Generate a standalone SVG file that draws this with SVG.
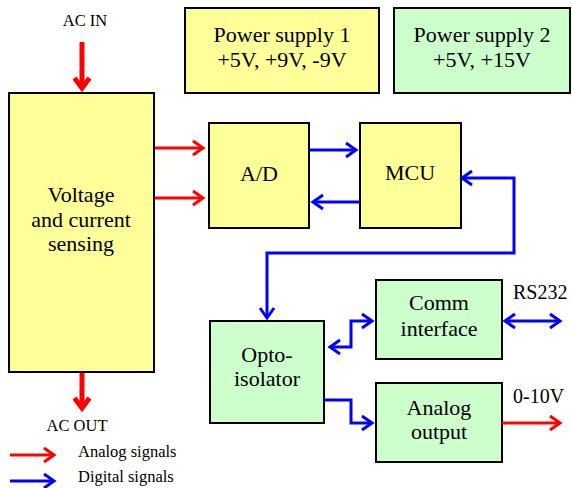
<svg xmlns="http://www.w3.org/2000/svg" width="572" height="488" viewBox="0 0 572 488">
<style>
.box{stroke:#000;stroke-width:2}
.y{fill:#FFFF99}
.g{fill:#CCFFCC}
text{font-family:'Liberation Serif',serif;fill:#000}
.t{font-size:22px;text-anchor:middle}
.s{font-size:16.5px}
.l{font-size:20px}
.r{stroke:#FF0000;stroke-width:3;fill:none}
.b{stroke:#0000FF;stroke-width:3;fill:none}
.R{stroke:#FF0000;stroke-width:5;fill:none}
</style>
<defs>
<marker id="ar" markerUnits="userSpaceOnUse" orient="auto" refX="0" refY="0" markerWidth="20" markerHeight="20" overflow="visible">
<path d="M-10,-7 L0,0 L-10,7" fill="none" stroke="#FF0000" stroke-width="3"/>
</marker>
<marker id="ab" markerUnits="userSpaceOnUse" orient="auto-start-reverse" refX="0" refY="0" markerWidth="20" markerHeight="20" overflow="visible">
<path d="M-10,-7 L0,0 L-10,7" fill="none" stroke="#0000FF" stroke-width="3"/>
</marker>
<marker id="aR" markerUnits="userSpaceOnUse" orient="auto" refX="0" refY="0" markerWidth="30" markerHeight="30" overflow="visible">
<path d="M-10,-7.5 L0,0 L-10,7.5" fill="none" stroke="#FF0000" stroke-width="5"/>
</marker>
</defs>

<g id="ps1">
<rect class="box y" x="185" y="8" width="194" height="85"/>
<text class="t" x="282" y="42" font-family="Liberation Serif, serif">Power supply 1</text>
<text class="t" x="282" y="67" font-family="Liberation Serif, serif">+5V, +9V, -9V</text>
</g>
<g id="ps2">
<rect class="box g" x="394" y="8" width="176" height="85"/>
<text class="t" x="482" y="42" font-family="Liberation Serif, serif">Power supply 2</text>
<text class="t" x="482" y="67" font-family="Liberation Serif, serif">+5V, +15V</text>
</g>
<g id="sensing">
<rect class="box y" x="9" y="93" width="145" height="279"/>
<text class="t" x="81" y="202" font-family="Liberation Serif, serif">Voltage</text>
<text class="t" x="81" y="227" font-family="Liberation Serif, serif">and current</text>
<text class="t" x="81" y="251" font-family="Liberation Serif, serif">sensing</text>
</g>
<g id="ad">
<rect class="box y" x="209" y="123" width="100" height="105"/>
<text class="t" x="259" y="181" font-family="Liberation Serif, serif">A/D</text>
</g>
<g id="mcu">
<rect class="box y" x="360" y="123" width="101" height="105"/>
<text class="t" x="410" y="180" font-family="Liberation Serif, serif">MCU</text>
</g>
<g id="opto">
<rect class="box g" x="210" y="321" width="114" height="102"/>
<text class="t" x="267" y="362" font-family="Liberation Serif, serif">Opto-</text>
<text class="t" x="267" y="386" font-family="Liberation Serif, serif">isolator</text>
</g>
<g id="comm">
<rect class="box g" x="376" y="280" width="126" height="79"/>
<text class="t" x="439" y="310" font-family="Liberation Serif, serif">Comm</text>
<text class="t" x="439" y="336" font-family="Liberation Serif, serif">interface</text>
</g>
<g id="aout">
<rect class="box g" x="376" y="383" width="126" height="79"/>
<text class="t" x="439" y="415" font-family="Liberation Serif, serif">Analog</text>
<text class="t" x="439" y="439" font-family="Liberation Serif, serif">output</text>
</g>

<g id="connectors">
<path class="R" d="M82,42 V88" marker-end="url(#aR)"/>
<path class="R" d="M82,373 V408" marker-end="url(#aR)"/>
<path class="r" d="M155,148 H203" marker-end="url(#ar)"/>
<path class="r" d="M155,198 H203" marker-end="url(#ar)"/>
<path class="b" d="M309,150 H356" marker-end="url(#ab)"/>
<path class="b" d="M360,202 H313" marker-end="url(#ab)"/>
<path class="b" d="M267,318 V253 H514 V178 H462" marker-start="url(#ab)" marker-end="url(#ab)"/>
<path class="b" d="M330,347 H351 V321 H372" marker-start="url(#ab)" marker-end="url(#ab)"/>
<path class="b" d="M324,400 H351 V423 H372" marker-end="url(#ab)"/>
<path class="b" d="M505,321 H560" marker-start="url(#ab)" marker-end="url(#ab)"/>
<path class="r" d="M502,423 H560" marker-end="url(#ar)"/>
<path class="r" d="M10,455 H54" marker-end="url(#ar)"/>
<path class="b" d="M10,481 H54" marker-end="url(#ab)"/>
</g>

<g id="labels">
<text class="s" x="85" y="26" text-anchor="middle" font-family="Liberation Serif, serif">AC IN</text>
<text class="s" x="77" y="431" text-anchor="middle" font-family="Liberation Serif, serif">AC OUT</text>
<text class="l" x="513" y="299" font-family="Liberation Serif, serif">RS232</text>
<text class="l" x="513" y="403" font-family="Liberation Serif, serif">0-10V</text>
<text class="s" x="78" y="457" font-family="Liberation Serif, serif">Analog signals</text>
<text class="s" x="78" y="482" font-family="Liberation Serif, serif">Digital signals</text>
</g>
</svg>
